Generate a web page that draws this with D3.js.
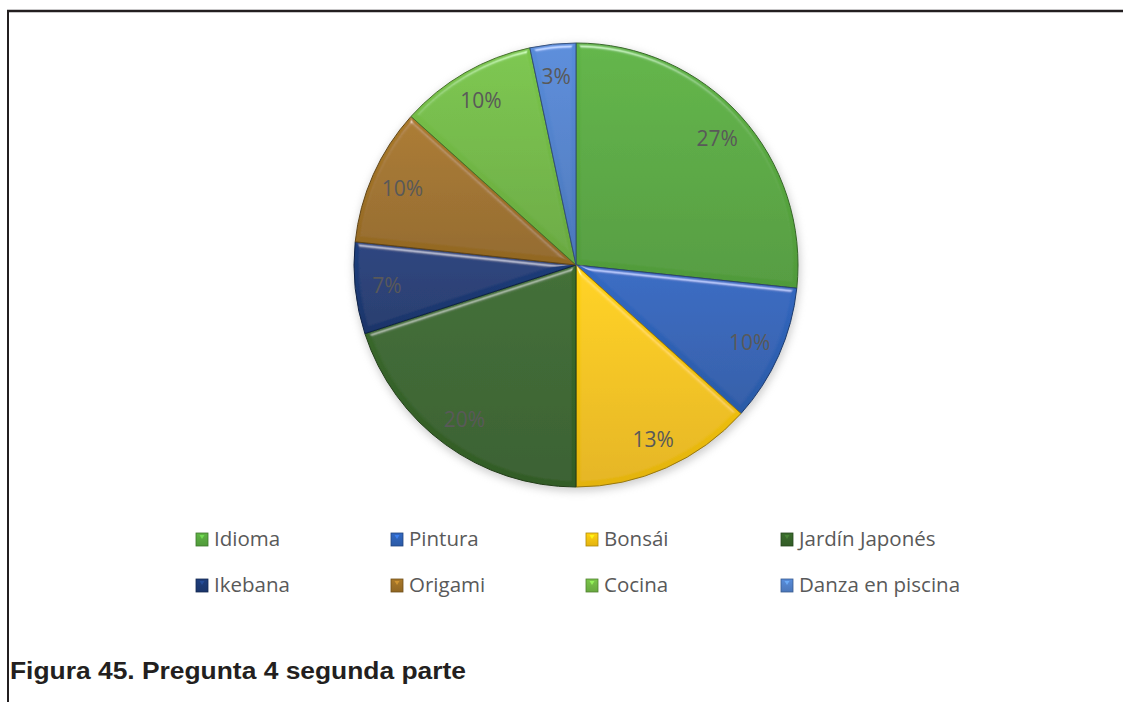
<!DOCTYPE html>
<html>
<head>
<meta charset="utf-8">
<script src="https://cdn.jsdelivr.net/npm/d3@7/dist/d3.min.js"></script>
<style>
  html, body { margin: 0; padding: 0; background: #fff; }
  svg { display: block; }
</style>
</head>
<body>
<svg id="chart" width="1123" height="702"></svg>
<script>
// ---- Data ----
const categories = ["Idioma", "Pintura", "Bonsái", "Jardín Japonés", "Ikebana", "Origami", "Cocina", "Danza en piscina"];
const values = [8, 3, 4, 6, 2, 3, 3, 1];
const sliceColors = ["#58A83F", "#2F62B6", "#F8C410", "#37652A", "#1C3A74", "#9E7126", "#72B845", "#5282CB"];
const captionText = "Figura 45. Pregunta 4 segunda parte";

// ---- Layout ----
const W = 1123, H = 702;
const cx = 576, cy = 265, R = 222, labelR = 190;

const svg = d3.select("#chart");
const defs = svg.append("defs");

// Bevel filter
const bevel = defs.append("filter").attr("id", "bevel")
  .attr("x", "-5%").attr("y", "-5%").attr("width", "110%").attr("height", "110%");
bevel.append("feGaussianBlur").attr("in", "SourceAlpha").attr("stdDeviation", 2.5).attr("result", "blur");
const spec = bevel.append("feSpecularLighting").attr("in", "blur")
  .attr("surfaceScale", 4).attr("specularConstant", 0.7).attr("specularExponent", 35)
  .attr("lighting-color", "#ffffff").attr("result", "spec");
spec.append("feDistantLight").attr("azimuth", 270).attr("elevation", 40);
bevel.append("feComposite").attr("in", "spec").attr("in2", "SourceAlpha").attr("operator", "in").attr("result", "specIn");
bevel.append("feComposite").attr("in", "SourceGraphic").attr("in2", "specIn")
  .attr("operator", "arithmetic").attr("k1", 0).attr("k2", 1).attr("k3", 0.6).attr("k4", 0);

// Shadow filter
const shadow = defs.append("filter").attr("id", "shadow")
  .attr("x", "-20%").attr("y", "-20%").attr("width", "140%").attr("height", "140%");
shadow.append("feGaussianBlur").attr("stdDeviation", 4);

// Gradients per slice
sliceColors.forEach((c, i) => {
  const g = defs.append("linearGradient").attr("id", "grad" + i)
    .attr("x1", 0).attr("y1", 0).attr("x2", 0).attr("y2", 1);
  g.append("stop").attr("offset", "0%").attr("stop-color", d3.color(c).brighter(0.2).formatHex());
  g.append("stop").attr("offset", "100%").attr("stop-color", d3.color(c).darker(0.25).formatHex());
});

// Frame lines
svg.append("line").attr("x1", 7).attr("x2", W).attr("y1", 11).attr("y2", 11)
  .attr("stroke", "#231f20").attr("stroke-width", 2.5);
svg.append("line").attr("x1", 8).attr("x2", 8).attr("y1", 10).attr("y2", H)
  .attr("stroke", "#231f20").attr("stroke-width", 2);

// Pie
const total = d3.sum(values);
const pie = d3.pie().sort(null).value(d => d)(values);
const arc = d3.arc().innerRadius(0).outerRadius(R);
const labelArc = d3.arc().innerRadius(labelR).outerRadius(labelR);
const pct = d3.format(".0%");

const g = svg.append("g").attr("transform", `translate(${cx},${cy})`);

g.append("circle").attr("cx", 1).attr("cy", 3).attr("r", R + 1)
  .attr("fill", "#9a9a9a").attr("opacity", 0.5).attr("filter", "url(#shadow)");

g.selectAll("path.slice").data(pie).join("path")
  .attr("class", "slice")
  .attr("d", arc)
  .attr("fill", (d, i) => `url(#grad${i})`)
  .attr("stroke", (d, i) => d3.color(sliceColors[i]).darker(1.4).formatHex())
  .attr("stroke-width", 1)
  .attr("filter", "url(#bevel)");

g.selectAll("text.lbl").data(pie).join("text")
  .attr("class", "lbl")
  .attr("transform", d => `translate(${labelArc.centroid(d)})`)
  .attr("text-anchor", "middle")
  .attr("dominant-baseline", "central")
  .attr("font-family", "'Open Sans', sans-serif")
  .attr("font-size", 21)
  .attr("fill", "#595959")
  .text(d => pct(d.data / total));

// Legend
const colX = d3.scaleLinear().domain([0, 3]).range([196, 781]);
const rowY = d3.scaleLinear().domain([0, 1]).range([546, 592]);
const leg = svg.append("g");
categories.forEach((name, i) => {
  const col = i % 4, row = Math.floor(i / 4);
  const x = colX(col), y = rowY(row);
  leg.append("rect")
    .attr("x", x).attr("y", y - 13).attr("width", 12).attr("height", 13)
    .attr("fill", `url(#grad${i})`)
    .attr("stroke", d3.color(sliceColors[i]).darker(1).formatHex())
    .attr("stroke-width", 0.8);
  leg.append("path")
    .attr("d", `M${x + 3.5},${y - 11} L${x + 8.5},${y - 11} L${x + 6},${y - 7} Z`)
    .attr("fill", d3.color(sliceColors[i]).brighter(0.9).formatHex())
    .attr("opacity", 0.8);
  leg.append("text")
    .attr("x", x + 18).attr("y", y)
    .attr("font-family", "'Open Sans', sans-serif")
    .attr("font-size", 20.5)
    .attr("fill", "#595959")
    .text(name);
});

// Caption
svg.append("text")
  .attr("x", 10).attr("y", 679)
  .attr("font-family", "'Liberation Sans', Arial, sans-serif")
  .attr("font-weight", "bold")
  .attr("font-size", 23)
  .attr("fill", "#231f20")
  .attr("textLength", 456)
  .attr("lengthAdjust", "spacingAndGlyphs")
  .text(captionText);
</script>
</body>
</html>
